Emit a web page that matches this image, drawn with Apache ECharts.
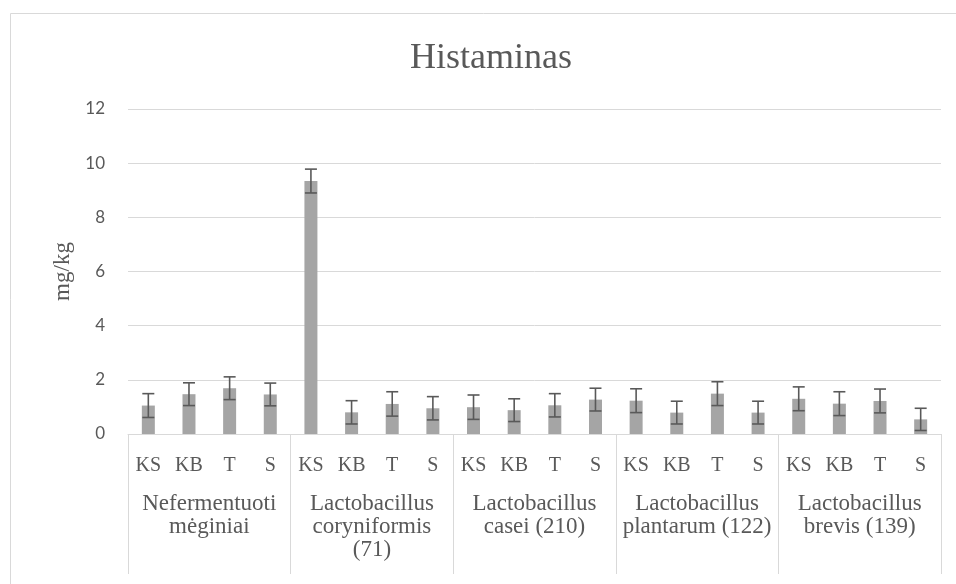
<!DOCTYPE html>
<html>
<head>
<meta charset="utf-8">
<script src="https://cdn.jsdelivr.net/npm/echarts@6/dist/echarts.min.js"></script>
<style>html,body{margin:0;padding:0;background:#fff}#c{width:956px;height:584px}</style>
</head>
<body>
<div id="c"></div>
<script>
const titleText = 'Histaminas';
const yAxisName = 'mg/kg';
const subCategories = ['KS','KB','T','S','KS','KB','T','S','KS','KB','T','S','KS','KB','T','S','KS','KB','T','S'];
const groups = ['Nefermentuoti\nmėginiai','Lactobacillus\ncoryniformis\n(71)','Lactobacillus\ncasei (210)','Lactobacillus\nplantarum (122)','Lactobacillus\nbrevis (139)'];
const values = [1.05,1.47,1.69,1.46, 9.34,0.80,1.11,0.95, 0.99,0.88,1.06,1.27, 1.23,0.79,1.49,0.79, 1.30,1.12,1.22,0.54];
const errors = [0.44,0.42,0.42,0.42, 0.44,0.43,0.45,0.43, 0.45,0.42,0.43,0.42, 0.44,0.42,0.44,0.42, 0.44,0.44,0.44,0.41];
const yTicks = {min:0, max:12, interval:2};

const chart = echarts.init(document.getElementById('c'));
const errData = values.map((v,i)=>[i, v-errors[i], v+errors[i]]);
const gridC = '#d9d9d9';
const txt = '#595959';
chart.setOption({
  animation:false,
  title:{text:titleText,left:405,top:36,textStyle:{fontFamily:'Liberation Serif',fontSize:36,fontWeight:'normal',color:txt}},
  graphic:[{type:'rect',shape:{x:10.5,y:13.5,width:1000,height:700},style:{fill:'none',stroke:gridC,lineWidth:1},silent:true}],
  grid:{left:128,right:15,top:109,bottom:150},
  xAxis:[
    {type:'category',data:subCategories,position:'bottom',
     axisLine:{show:true,lineStyle:{color:gridC,width:1}},axisTick:{show:false},
     axisLabel:{interval:0,margin:22,fontFamily:'Liberation Serif',fontSize:20,color:txt}},
    {type:'category',data:groups,position:'bottom',
     axisLine:{show:false},
     axisTick:{show:true,interval:0,length:140,lineStyle:{color:gridC,width:1}},
     axisLabel:{interval:0,margin:58,fontFamily:'Liberation Serif',fontSize:23,lineHeight:23,color:txt,align:'center',verticalAlign:'top'}}
  ],
  yAxis:{type:'value',min:yTicks.min,max:yTicks.max,interval:yTicks.interval,
    name:yAxisName,nameLocation:'middle',nameRotate:90,nameGap:54,
    nameTextStyle:{fontFamily:'Liberation Serif',fontSize:23,color:txt},
    axisLine:{show:false},axisTick:{show:false},
    axisLabel:{margin:23,fontFamily:'Lato',fontSize:17,color:txt},
    splitLine:{lineStyle:{color:gridC,width:1}}},
  series:[
    {type:'bar',data:values,barWidth:13,itemStyle:{color:'#a5a5a5'},xAxisIndex:0},
    {type:'custom',xAxisIndex:0,data:errData,z:5,
     renderItem:function(params,api){
       const x=api.value(0);
       const lo=api.coord([x,api.value(1)]);
       const hi=api.coord([x,api.value(2)]);
       const hw=6;
       const st={stroke:'#595959',lineWidth:1.6};
       return {type:'group',children:[
         {type:'line',shape:{x1:lo[0],y1:lo[1],x2:hi[0],y2:hi[1]},style:st},
         {type:'line',shape:{x1:lo[0]-hw,y1:lo[1],x2:lo[0]+hw,y2:lo[1]},style:st},
         {type:'line',shape:{x1:hi[0]-hw,y1:hi[1],x2:hi[0]+hw,y2:hi[1]},style:st}
       ]};
     }}
  ]
});
</script>
</body>
</html>
